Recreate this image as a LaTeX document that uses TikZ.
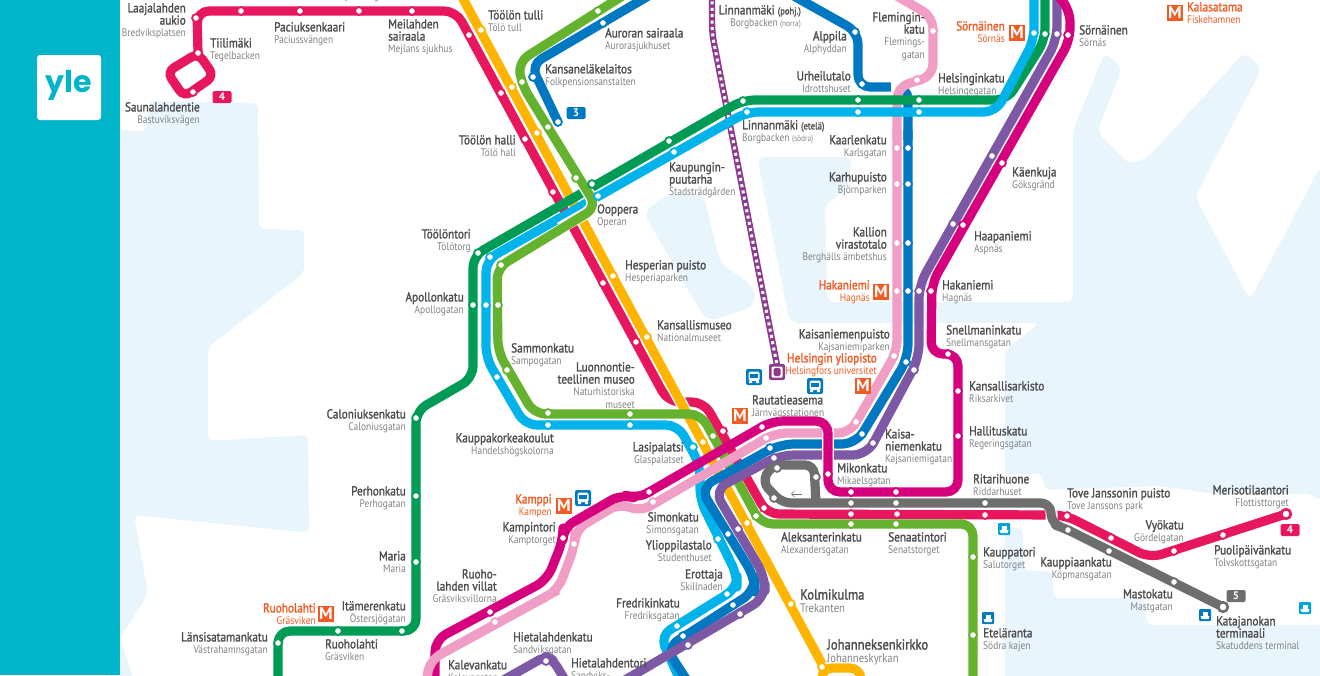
\documentclass[tikz,border=0pt]{standalone}
\usepackage{fontspec}
\setmainfont{PT Sans}
\newfontfamily\logofont{Poppins}
\newfontfamily\namefont[FakeBold=1.6,FakeStretch=0.865]{PT Sans}
\newfontfamily\subfont[FakeStretch=0.86]{PT Sans}
\usetikzlibrary{arrows.meta,calc}

\definecolor{lred}{HTML}{E8175D}
\definecolor{lyellow}{HTML}{FFB500}
\definecolor{llime}{HTML}{64B22E}
\definecolor{lgreen}{HTML}{009B55}
\definecolor{lsky}{HTML}{00B3EA}
\definecolor{lblue}{HTML}{0079C2}
\definecolor{lpurple}{HTML}{7D58A5}
\definecolor{lmagenta}{HTML}{D6007F}
\definecolor{lpink}{HTML}{F09EC5}
\definecolor{lgrey}{HTML}{6E6E6E}
\definecolor{ltram}{HTML}{8E3A8E}
\definecolor{metroorange}{HTML}{F15A22}
\definecolor{water}{HTML}{E9F5FC}
\definecolor{stripe}{HTML}{00B4C9}
\definecolor{maintext}{HTML}{4D4D4F}
\definecolor{subtext}{HTML}{808285}
\definecolor{ferryblue}{HTML}{00A5E0}

\newcommand{\sv}[1]{{\subfont\fontsize{11}{12.2}\selectfont\color{subtext}#1}}
\newcommand{\so}[1]{{\subfont\fontsize{11}{12.2}\selectfont\color{metroorange}#1}}
\def\busicon(#1,#2){
	\begin{scope}[shift={(#1,#2)}]
		\fill[lblue,rounded corners=2] (-8,-8) rectangle (8,8);
		\fill[white,rounded corners=1.5] (-5.5,-5.5) rectangle (5.5,4);
		\fill[lblue] (-4,-3.5) rectangle (4,1);
		\fill[white] (-5,4) rectangle (-2,6) (2,4) rectangle (5,6);
	\end{scope}
}
\def\ferryicon(#1,#2)#3{
	\begin{scope}[shift={(#1,#2)}]
		\fill[#3,rounded corners=1] (-6,-6) rectangle (6,6);
		\fill[white] (-4.5,1) -- (4.5,1) -- (3.5,4) -- (-3.5,4) -- cycle;
		\fill[white] (-2.5,-3.5) rectangle (2.5,1);
	\end{scope}
}

\tikzset{
	lineway/.style={line width=9.2,rounded corners=12,line join=round},
	casing/.style={draw=white,line width=12},
	stn/.style={draw=#1,fill=white,line width=1.8},
	labl/.style={inner sep=0,anchor=north west,align=left,text=maintext,font=\namefont\fontsize{13}{12.2}\selectfont,execute at begin node={\rule{0pt}{9.5pt}}},
	labr/.style={labl,anchor=north east,align=right},
	laborange/.style={labr,text=metroorange},
	metro/.style={inner sep=0,minimum size=16,text=white,fill=metroorange,font=\fontsize{17}{17}\selectfont\bfseries},
	badge/.style={fill=#1,text=white,rounded corners=1.5,inner sep=0,minimum width=19,minimum height=12,font=\fontsize{11}{11}\selectfont\bfseries},
}

\begin{document}
\begin{tikzpicture}[x=1pt,y=-1pt]
	%%%%% START %%%%%
	\useasboundingbox (0,0) rectangle (1320,675);
	\clip (0,0) rectangle (1320,675);
	
	% water
	\fill[water,rounded corners=6] (110,129) -- (145,132) -- (149,101) -- (258,103) -- (259,229) -- (304,230) -- (304,273) -- (208,347) -- (208,441) -- (308,435) -- (309,533) -- (134,515) -- (148,594) -- (120,638) -- (137,690) -- (110,690) -- cycle;
	\fill[water,rounded corners=10] (643,212) -- (667,195) -- (703,193) -- (720,263) -- (755,287) -- (755,306) -- (707,322) -- cycle;
	\fill[water,rounded corners=8] (757,157) -- (852,157) -- (848,188) -- (825,205) -- (827,302) -- (1073,302) -- (1073,130) -- (1105,52) -- (1122,68) -- (1097,132) -- (1130,165) -- (1148,157) -- (1245,52) -- (1262,68) -- (1195,197) -- (1250,300) -- (1320,167) -- (1330,167) -- (1330,690) -- (1005,690) -- (1005,350) -- (1040,323) -- (790,323) -- cycle;
	\fill[white,rounded corners=6] (995,474) -- (1042,474) -- (1045,490) -- (1160,486) -- (1213,494) -- (1310,494) -- (1330,505) -- (1330,625) -- (1147,625) -- (1145,598) -- (1053,598) -- (1053,572) -- (1023,570) -- (1023,528) -- (995,528) -- cycle;
	
	% lines that run under the others
	\draw[ltram,line width=6.4,rounded corners=10] (712,-5) -- (712,33) -- (777,365);
	\draw[white,line width=3,dash pattern=on 3 off 3.4,rounded corners=10] (712,-5) -- (712,33) -- (777,365);
	\draw[lred,lineway] (198,53) -- (197,11) -- (456,11) -- (668,402) -- (704,402) -- (767,514) -- (1065,515) -- (1150,558) -- (1286,514);
	\draw[lred,line width=9.2,rounded corners=8] (198,53) -- (214,76) -- (184,97) -- (167,72) -- cycle;
	\draw[casing,line cap=butt] (461,-5) -- (822,664);
	\draw[lyellow,lineway] (461,-5) -- (822,664);
	\draw[lyellow,line width=9.2,rounded corners=10] (822,690) -- (822,668) -- (860,668) -- (862,690);
	\draw[lblue,lineway] (792,-5) -- (858,32) -- (858,87) -- (908,87) -- (908,140);
	\draw[casing] (897,70) -- (897,130);
	\draw[lpink,lineway] (895,-5) -- (933,17) -- (933,76) -- (897,87) -- (897,140);
	\draw[lblue,lineway] (650,-5) -- (531,65) -- (558,122);
	
	\draw[lgreen,lineway] (1045,-5) -- (1045,40) -- (1007,100) -- (743,100) -- (473,256) -- (473,378) -- (416,411) -- (416,631) -- (278,631) -- (278,690);
	\draw[lsky,lineway] (1034,-5) -- (1034,40) -- (996,112) -- (747,112) -- (486,260) -- (486,358) -- (525,425) -- (678,425) -- (700,465) -- (700,500) -- (737,575) -- (737,588) -- (660,636) -- (680,680);
	\draw[casing,rounded corners=12] (522,85) -- (597,207) -- (560,228);
	\draw[llime,lineway] (624,-5) -- (518,62) -- (522,85) -- (597,207) -- (497,268) -- (498,352) -- (534,414) -- (701,414) -- (761,524) -- (973,524) -- (973,690);
	
	% lines through the centre
	\draw[lblue,lineway,rounded corners=14] (908,130) -- (908,358) -- (856,444) -- (780,444) -- (700,488) -- (755,578) -- (755,591) -- (666,648) -- (690,685);
	\draw[lpurple,lineway,rounded corners=14] (1057,-8) -- (1057,40) -- (919,285) -- (919,358) -- (867,455) -- (780,455) -- (714,490) -- (765,577) -- (765,598) -- (625,680);
	\draw[lpurple,lineway,rounded corners=8] (500,682) -- (546,656) -- (553,660) -- (568,685);
	\draw[lpink,lineway] (897,130) -- (897,351) -- (850,433) -- (775,433) -- (640,512) -- (620,503) -- (575,530) -- (575,545) -- (558,590) -- (430,660) -- (425,690);
	\draw[casing] (828,429) -- (828,486);
	\draw[casing] (435,642) -- (435,672);
	\draw[lmagenta,lineway] (1052,-12) -- (1070,10) -- (1070,40) -- (932,283) -- (931,354) -- (958,354) -- (958,492) -- (828,492) -- (828,421) -- (772,421) -- (637,499) -- (622,494) -- (563,528) -- (563,540) -- (547,580) -- (435,640) -- (435,690);
	\draw[lpink,lineway] (558,590) -- (430,660) -- (425,690);
	\draw[casing] (1051,503) -- (1052,525);
	\draw[lgrey,lineway,rounded corners=9] (1223,607) -- (1064,528) -- (1052,524) -- (1050,503) -- (782,503) -- (762,482) -- (772,465) -- (814,465) -- (816,503);
	
	% stops
	\foreach \p in {(198,53),(193,92),(196,18),(241,11),(300,11),(359,11),(412,11),(469,35),(501,93),(525,139),(553,192),(603,283),(636,342),(723,431),(764,508),(851,514),(897,514),(985,515),(1067,516),(1111,538),(1174,551),(1223,535)}
		\draw[stn=lred] \p circle (3.9);
	\foreach \p in {(481,30),(512,87),(537,133),(613,276),(647,337),(703,442),(747,523),(791,604),(822,667)}
		\draw[stn=lyellow] \p circle (3.9);
	\foreach \p in {(598,11),(522,82),(548,127),(576,178),(501,265),(498,305),(507,370),(548,413),(630,414),(713,436),(756,516),(851,524),(896,524),(973,557),(973,635)}
		\draw[stn=llime] \p circle (3.9);
	\foreach \p in {(603,23),(533,77),(558,122),(855,32),(862,84),(908,148),(908,184),(908,243),(908,291),(906,362),(862,434),(770,448),(728,534),(733,605),(683,636)}
		\draw[stn=lblue] \p circle (3.9);
	\foreach \p in {(1045,34),(919,100),(858,100),(743,101),(669,141),(592,184),(478,253),(473,305),(416,418),(416,496),(416,562),(402,631),(338,631),(278,643)}
		\draw[stn=lgreen] \p circle (3.9);
	\foreach \p in {(1034,33),(919,112),(858,112),(747,112),(674,152),(598,196),(490,257),(486,305),(497,377),(548,425),(630,425),(693,447),(718,539),(727,594),(677,626)}
		\draw[stn=lsky] \p circle (3.9);
	\foreach \p in {(1057,34),(992,156),(953,224),(919,291),(914,370),(873,443),(774,458),(738,529),(740,614),(688,645),(546,661)}
		\draw[stn=lpurple] \p circle (3.9);
	\foreach \p in {(1068,35),(1002,163),(963,225),(931,291),(948,354),(958,391),(958,436),(896,492),(851,492),(828,474),(762,427),(649,492),(563,538),(490,612)}
		\draw[stn=lmagenta] \p circle (3.9);
	\foreach \p in {(933,31),(917,80),(897,148),(897,184),(897,243),(897,291),(894,356),(856,422),(766,438),(653,502),(574,544),(495,622)}
		\draw[stn=lpink] \p circle (3.9);
	\foreach \p in {(774,498),(777,468),(816,477),(851,503),(896,503),(985,503),(1068,530),(1109,551),(1174,582)}
		\draw[stn=lgrey] \p circle (3.9);
	\draw[stn=lred,line width=2.6] (1286,514) circle (4.8);
	\draw[stn=lgrey,line width=2.6] (1223,607) circle (4.8);
	
	\draw[-{Straight Barb[length=3]},lgrey,line width=0.6] (802,494) -- (791,494);
	
	% icons
	\busicon(754,377)
	\busicon(815,386)
	\busicon(583,498)
	\ferryicon(1004,529){ferryblue}
	\ferryicon(1305,608){ferryblue}
	\ferryicon(988,618){lblue}
	\ferryicon(1205,615){lblue}
	\fill[ltram,rounded corners=2] (769,364) rectangle (785,380);
	\fill[white,rounded corners=1] (771.5,366.5) rectangle (782.5,377.5);
	\fill[ltram,rounded corners=1.5] (773.5,368) rectangle (780.5,376);
	\node[metro] (mKalasatama) at (1175,13) {M};
	\node[metro] (mSornainen) at (1017,33) {M};
	\node[metro] (mHakaniemi) at (881,292) {M};
	\node[metro] (mYliopisto) at (863,386) {M};
	\node[metro] (mRautatie) at (740,416) {M};
	\node[metro] (mKamppi) at (564,506) {M};
	\node[metro] (mRuoholahti) at (326,614) {M};
	\node[badge=lred] (badgeLaaja) at (222,97) {4};
	\node[badge=lblue] (badgeAurora) at (576,113) {3};
	\node[badge=lred] (badgeMeri) at (1290,530) {4};
	\node[badge=lgrey] (badgeKata) at (1236,596) {5};
	
	% stop names
	\node[labr] (laajalahti) at (186,3) {Laajalahden\\aukio\\\sv{Bredviksplatsen}};
	\node[labr] (saunalahti) at (200,102) {Saunalahdentie\\\sv{Bastuviksvägen}};
	\node[labr] (toolohalli) at (516,135) {Töölön halli\\\sv{Tölö hall}};
	\node[labr] (toolontori) at (471,229) {Töölöntori\\\sv{Tölötorg}};
	\node[labr] (apollon) at (464,292) {Apollonkatu\\\sv{Apollogatan}};
	\node[labr] (calonius) at (406,409) {Caloniuksenkatu\\\sv{Caloniusgatan}};
	\node[labr] (perhon) at (406,486) {Perhonkatu\\\sv{Perhogatan}};
	\node[labr] (maria) at (406,551) {Maria\\\sv{Maria}};
	\node[labr] (itameri) at (406,601) {Itämerenkatu\\\sv{Östersjögatan}};
	\node[laborange] (ruoholahtiM) at (316,603) {Ruoholahti\\\so{Gräsviken}};
	\node[labr] (lansisatama) at (268,632) {Länsisatamankatu\\\sv{Västrahamnsgatan}};
	\node[labr] (ruoholahdenvillat) at (497,569) {Ruoho-\\lahden villat\\\sv{Gräsviksvillorna}};
	\node[labr] (kampintori) at (556,522) {Kampintori\\\sv{Kamptorget}};
	\node[laborange] (kamppi) at (552,494) {Kamppi\\\so{Kampen}};
	\node[labr] (luonnontiede) at (635,362) {Luonnontie-\\teellinen museo\\\sv{Naturhistoriska}\\\sv{museet}};
	\node[labr] (kauppakorkea) at (554,433) {Kauppakorkeakoulut\\\sv{Handelshögskolorna}};
	\node[labr] (lasipalatsi) at (684,442) {Lasipalatsi\\\sv{Glaspalatset}};
	\node[labr] (simonkatu) at (699,512) {Simonkatu\\\sv{Simonsgatan}};
	\node[labr] (ylioppilas) at (712,540) {Ylioppilastalo\\\sv{Studenthuset}};
	\node[labr] (erottaja) at (723,569) {Erottaja\\\sv{Skillnaden}};
	\node[labr] (fredrikin) at (680,598) {Fredrikinkatu\\\sv{Fredriksgatan}};
	\node[labr] (alppila) at (847,31) {Alppila\\\sv{Alphyddan}};
	\node[labr] (urheilutalo) at (851,71) {Urheilutalo\\\sv{Idrottshuset}};
	\node[labr] (flemingin) at (925,12) {Flemingin-\\katu\\\sv{Flemings-}\\\sv{gatan}};
	\node[labr] (kaarlen) at (887,135) {Kaarlenkatu\\\sv{Karlsgatan}};
	\node[labr] (karhu) at (887,172) {Karhupuisto\\\sv{Björnparken}};
	\node[labr] (kallio) at (887,227) {Kallion\\virastotalo\\\sv{Berghälls ämbetshus}};
	\node[laborange] (hakaniemiM) at (870,280) {Hakaniemi\\\so{Hagnäs}};
	\node[labr] (kaisapuisto) at (890,329) {Kaisaniemenpuisto\\\sv{Kajsaniemiparken}};
	\node[laborange] (yliopisto) at (877,353) {Helsingin yliopisto\\\so{Helsingfors universitet}};
	\node[laborange] (sornainenM) at (1005,21) {Sörnäinen\\\so{Sörnäs}};
	\node[labr] (linnapohj) at (801,5) {Linnanmäki {\fontsize{10}{12}\selectfont(pohj.)}\\\sv{Borgbacken {\fontsize{8.5}{12}\selectfont(norra)}}};
	\node[labr] (merisotilas) at (1289,485) {Merisotilaantori\\\sv{Flottisttorget}};
	\node[labr] (vyokatu) at (1184,520) {Vyökatu\\\sv{Gördelgatan}};
	\node[labr] (kauppias) at (1112,557) {Kauppiaankatu\\\sv{Köpmansgatan}};
	\node[labr] (masto) at (1173,589) {Mastokatu\\\sv{Mastgatan}};
	
	\node[labl] (munkki) at (210,-10) {\sv{Munksnäs allén}};
	\node[labl] (mejlans) at (333,-10) {\sv{Mejlansvägen}};
	\node[labl] (tiilimaki) at (210,38) {Tiilimäki\\\sv{Tegelbacken}};
	\node[labl] (paciuksen) at (274,22) {Paciuksenkaari\\\sv{Paciussvängen}};
	\node[labl] (meilahti) at (388,19) {Meilahden\\sairaala\\\sv{Mejlans sjukhus}};
	\node[labl] (toolotulli) at (488,10) {Töölön tulli\\\sv{Tölö tull}};
	\node[labl] (auroran) at (605,28) {Auroran sairaala\\\sv{Aurorasjukhuset}};
	\node[labl] (kansanelake) at (545,64) {Kansaneläkelaitos\\\sv{Folkpensionsanstalten}};
	\node[labl] (linnaetela) at (742,120) {Linnanmäki {\fontsize{10}{12}\selectfont(etelä)}\\\sv{Borgbacken {\fontsize{8.5}{12}\selectfont(södra)}}};
	\node[labl] (kaupunginpuu) at (669,162) {Kaupungin-\\puutarha\\\sv{Stadsträdgården}};
	\node[labl] (ooppera) at (597,204) {Ooppera\\\sv{Operan}};
	\node[labl] (hesperia) at (625,260) {Hesperian puisto\\\sv{Hesperiaparken}};
	\node[labl] (kansallismuseo) at (657,320) {Kansallismuseo\\\sv{Nationalmuseet}};
	\node[labl] (sammon) at (511,343) {Sammonkatu\\\sv{Sampogatan}};
	\node[labl] (rautatie) at (752,395) {Rautatieasema\\\sv{Järnvägsstationen}};
	\node[labl] (helsinginkatu) at (938,73) {Helsinginkatu\\\sv{Helsingegatan}};
	\node[labl] (sornainen) at (1079,25) {Sörnäinen\\\sv{Sörnäs}};
	\node[labl,text=metroorange] (kalasatama) at (1187,2) {Kalasatama\\\so{Fiskehamnen}};
	\node[labl] (kaenkuja) at (1012,167) {Käenkuja\\\sv{Göksgränd}};
	\node[labl] (haapaniemi) at (974,231) {Haapaniemi\\\sv{Aspnäs}};
	\node[labl] (hakaniemi) at (942,280) {Hakaniemi\\\sv{Hagnäs}};
	\node[labl] (snellman) at (946,325) {Snellmaninkatu\\\sv{Snellmansgatan}};
	\node[labl] (arkisto) at (969,381) {Kansallisarkisto\\\sv{Riksarkivet}};
	\node[labl] (hallitus) at (969,426) {Hallituskatu\\\sv{Regeringsgatan}};
	\node[labl] (kaisaniemi) at (885,429) {Kaisa-\\niemenkatu\\\sv{Kajsaniemigatan}};
	\node[labl] (mikon) at (837,463) {Mikonkatu\\\sv{Mikaelsgatan}};
	\node[labl] (ritari) at (973,474) {Ritarihuone\\\sv{Riddarhuset}};
	\node[labl] (tove) at (1067,488) {Tove Janssonin puisto\\\sv{Tove Janssons park}};
	\node[labl] (puolipaiva) at (1214,545) {Puolipäivänkatu\\\sv{Tolvskottsgatan}};
	\node[labl] (katajanokka) at (1216,616) {Katajanokan\\terminaali\\\sv{Skatuddens terminal}};
	\node[labl] (kauppatori) at (983,547) {Kauppatori\\\sv{Salutorget}};
	\node[labl] (etelaranta) at (983,628) {Eteläranta\\\sv{Södra kajen}};
	\node[labl] (aleksanterin) at (781,532) {Aleksanterinkatu\\\sv{Alexandersgatan}};
	\node[labl] (senaatti) at (888,532) {Senaatintori\\\sv{Senatstorget}};
	\node[labl,font=\namefont\fontsize{14.6}{13}\selectfont] (kolmikulma) at (800,589) {Kolmikulma\\\sv{\fontsize{12.4}{13}\selectfont Trekanten}};
	\node[labl,font=\namefont\fontsize{14.6}{13}\selectfont] (johannes) at (827,639) {Johanneksenkirkko\\\sv{\fontsize{12.4}{13}\selectfont Johanneskyrkan}};
	\node[labl] (ruoholahti) at (325,639) {Ruoholahti\\\sv{Gräsviken}};
	\node[labl] (hietakatu) at (513,632) {Hietalahdenkatu\\\sv{Sandviksgatan}};
	\node[labl] (hietatori) at (571,658) {Hietalahdentori\\\sv{Sandviks-}};
	\node[labl] (kaleva) at (448,660) {Kalevankatu\\\sv{Kalevagatan}};
	
	% stripe and logo
	\fill[stripe] (0,0) rectangle (120,675);
	\fill[white,rounded corners=3] (37,55) rectangle (101,120);
	\node[text=stripe,inner sep=0,font=\logofont\fontsize{30}{30}\selectfont\bfseries] (ylelogo) at (69,85) {yle};
	
	%%%%% END %%%%%
\end{tikzpicture}
\end{document}
